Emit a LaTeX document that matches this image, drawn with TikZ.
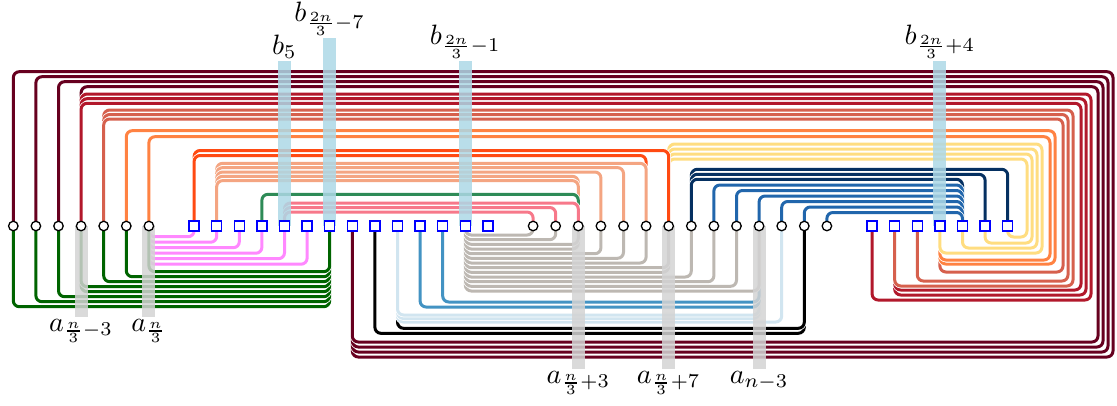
\documentclass[tikz,border=0pt]{standalone}
\pgfdeclarelayer{wires}
\pgfdeclarelayer{bars}
\pgfsetlayers{wires,bars,main}
\definecolor{cMaroon}{HTML}{67001F}
\definecolor{cRed}{HTML}{B2182B}
\definecolor{cSalmon}{HTML}{D6604D}
\definecolor{cOrange}{HTML}{FF8242}
\definecolor{cOrRed}{HTML}{FF4A12}
\definecolor{cLtSalmon}{HTML}{F4A582}
\definecolor{cYellow}{HTML}{FFDD80}
\definecolor{cNavy}{HTML}{053061}
\definecolor{cBlue}{HTML}{2166AC}
\definecolor{cMidBlue}{HTML}{4393C3}
\definecolor{cPale}{HTML}{D1E5F0}
\definecolor{cWarmGrey}{HTML}{BDB8B2}
\definecolor{cSeaGreen}{HTML}{2E8B57}
\definecolor{cPink}{HTML}{F7788A}
\definecolor{cMagenta}{HTML}{FF88FF}
\definecolor{cDkGreen}{HTML}{006400}
\definecolor{cBarBlue}{HTML}{ADD8E6}
\definecolor{cBarGrey}{HTML}{D3D3D3}
% horizontal position of slot k on the vertex row
\newcommand\xpos[1]{13.3+22.6*#1}
% edge over or under the row: vertex #2 -> track #3 -> vertex #4
\newcommand\arcedge[4]{\draw[wire,#1] (v#2.center) |- ({\xpos{#4}},#3) -- (v#4.center);}
% edge around the right side: vertex #2 -> top track #3 -> column #4 -> bottom track #5 -> vertex #6
\newcommand\loopedge[6]{\draw[wire,#1] (v#2.center) |- (#4,#3) |- ({\xpos{#6}},#5) -- (v#6.center);}
\begin{document}
\begin{tikzpicture}[x=1pt,y=-1pt,
  wire/.style={line width=3pt,rounded corners=6pt,preaction={draw=white,line width=4.5pt}},
  avert/.style={circle,draw=black,fill=white,line width=1.3pt,minimum size=9.5pt,inner sep=0pt},
  bvert/.style={rectangle,draw=blue,fill=white,line width=1.5pt,minimum size=10pt,inner sep=0pt},
  bbar/.style={fill=cBarBlue,opacity=0.85,minimum width=13pt,inner sep=0pt,anchor=south},
  abar/.style={fill=cBarGrey,opacity=0.85,minimum width=13pt,inner sep=0pt,anchor=north},
  lab/.style={scale=2.8,transform shape,inner sep=0.6pt}]
\useasboundingbox (0,0) rectangle (1117,405);

% vertex row
\foreach \k in {0,...,6} \node[avert] (v\k) at ({\xpos{\k}},226) {};
\foreach \k in {8,...,21} \node[bvert] (v\k) at ({\xpos{\k}},226) {};
\foreach \k in {23,...,36} \node[avert] (v\k) at ({\xpos{\k}},226) {};
\foreach \k in {38,...,44} \node[bvert] (v\k) at ({\xpos{\k}},226) {};

\begin{pgfonlayer}{wires}
% around the right side
\loopedge{cMaroon}{0}{71.7}{1113}{357}{15}
\loopedge{cMaroon}{1}{76.7}{1108}{352}{15}
\loopedge{cMaroon}{2}{81.7}{1103}{347}{15}
\loopedge{cMaroon}{3}{86.7}{1098}{342}{15}
\loopedge{cRed}{3}{94}{1091}{300}{38}
\loopedge{cRed}{3}{98.7}{1086}{295}{39}
\loopedge{cRed}{3}{103.3}{1081}{290}{39}
\loopedge{cSalmon}{4}{110}{1073}{286}{39}
\loopedge{cSalmon}{4}{114.5}{1068}{281}{40}
\loopedge{cSalmon}{4}{119}{1063}{272}{41}
\loopedge{cOrange}{5}{130.7}{1055}{264}{41}
\loopedge{cOrange}{6}{136.7}{1050}{260}{41}
\loopedge{cYellow}{29}{144}{1042}{253}{41}
\loopedge{cYellow}{29}{149}{1037}{248}{42}
\loopedge{cYellow}{29}{154}{1032}{243}{43}
\loopedge{cYellow}{29}{159}{1027}{237}{44}
% over the row
\arcedge{cOrRed}{8}{150.5}{29}
\arcedge{cOrRed}{8}{155.5}{28}
\arcedge{cLtSalmon}{9}{163.3}{28}
\arcedge{cLtSalmon}{9}{167.6}{27}
\arcedge{cLtSalmon}{9}{172}{26}
\arcedge{cLtSalmon}{9}{176.3}{25}
\arcedge{cLtSalmon}{9}{180.6}{25}
\arcedge{cSeaGreen}{11}{194.3}{25}
\arcedge{cPink}{12}{203}{25}
\arcedge{cPink}{12}{207.5}{24}
\arcedge{cPink}{12}{212}{23}
\arcedge{cNavy}{30}{169.3}{44}
\arcedge{cNavy}{30}{174.3}{43}
\arcedge{cNavy}{30}{179.3}{42}
\arcedge{cBlue}{31}{185}{42}
\arcedge{cBlue}{32}{190.5}{42}
\arcedge{cBlue}{33}{196}{42}
\arcedge{cBlue}{34}{201.5}{42}
\arcedge{cBlue}{35}{207}{42}
\arcedge{cBlue}{36}{212.5}{42}
% under the row
\arcedge{cMagenta}{6}{264.2}{13}
\arcedge{cMagenta}{6}{258.7}{12}
\arcedge{cMagenta}{6}{253.2}{11}
\arcedge{cMagenta}{6}{247.7}{10}
\arcedge{cMagenta}{6}{242.2}{9}
\arcedge{cMagenta}{6}{236.7}{8}
\arcedge{cDkGreen}{0}{306.7}{14}
\arcedge{cDkGreen}{1}{301.7}{14}
\arcedge{cDkGreen}{2}{296.7}{14}
\arcedge{cDkGreen}{3}{291.7}{14}
\arcedge{cDkGreen}{3}{286.7}{14}
\arcedge{cDkGreen}{4}{281.7}{14}
\arcedge{cDkGreen}{5}{276.7}{14}
\arcedge{cDkGreen}{6}{271.7}{14}
\arcedge{black}{16}{333.3}{35}
\arcedge{black}{17}{328.3}{35}
\arcedge{cPale}{17}{322}{34}
\arcedge{cPale}{17}{318.5}{33}
\arcedge{cPale}{17}{315}{33}
\arcedge{cMidBlue}{18}{307}{33}
\arcedge{cMidBlue}{19}{302}{33}
\arcedge{cWarmGrey}{20}{291}{33}
\arcedge{cWarmGrey}{20}{286.3}{32}
\arcedge{cWarmGrey}{20}{281.7}{31}
\arcedge{cWarmGrey}{20}{277}{30}
\arcedge{cWarmGrey}{20}{272.3}{29}
\arcedge{cWarmGrey}{20}{267.7}{29}
\arcedge{cWarmGrey}{20}{263}{28}
\arcedge{cWarmGrey}{20}{258.3}{27}
\arcedge{cWarmGrey}{20}{253.7}{26}
\arcedge{cWarmGrey}{20}{249}{25}
\arcedge{cWarmGrey}{20}{244.3}{25}
\arcedge{cWarmGrey}{20}{239.7}{24}
\arcedge{cWarmGrey}{20}{235}{23}
\end{pgfonlayer}

% highlight bars
\begin{pgfonlayer}{bars}
\node[bbar,minimum height=165pt] (bar12) at (v12.center) {};
\node[bbar,minimum height=188pt] (bar14) at (v14.center) {};
\node[bbar,minimum height=165pt] (bar20) at (v20.center) {};
\node[bbar,minimum height=165pt] (bar41) at (v41.center) {};
\node[abar,minimum height=91pt] (bar3) at (v3.center) {};
\node[abar,minimum height=91pt] (bar6) at (v6.center) {};
\node[abar,minimum height=143pt] (bar25) at (v25.center) {};
\node[abar,minimum height=143pt] (bar29) at (v29.center) {};
\node[abar,minimum height=143pt] (bar33) at (v33.center) {};
\end{pgfonlayer}

% labels
\node[lab,anchor=south] (lb5) at (bar12.north) {$b_5$};
\node[lab,anchor=south] (lb7) at (bar14.north) {$b_{\frac{2n}{3}-7}$};
\node[lab,anchor=south] (lb13) at (bar20.north) {$b_{\frac{2n}{3}-1}$};
\node[lab,anchor=south] (lb18) at (bar41.north) {$b_{\frac{2n}{3}+4}$};
\node[lab,anchor=north] (la4) at (bar3.south) {$a_{\frac{n}{3}-3}$};
\node[lab,anchor=north] (la7) at (bar6.south) {$a_{\frac{n}{3}}$};
\node[lab,anchor=north] (la10) at (bar25.south) {$a_{\frac{n}{3}+3}$};
\node[lab,anchor=north] (la14) at (bar29.south) {$a_{\frac{n}{3}+7}$};
\node[lab,anchor=north] (la18) at (bar33.south) {$a_{n-3}$};
\end{tikzpicture}
\end{document}
